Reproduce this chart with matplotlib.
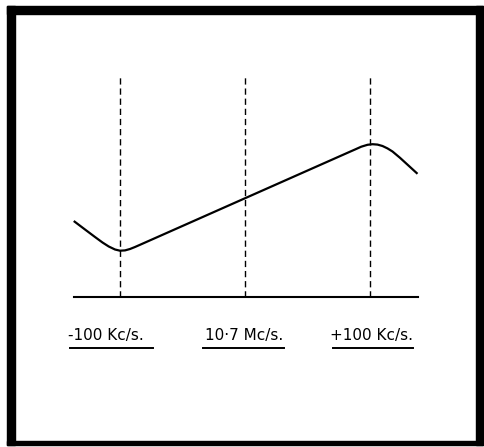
import matplotlib
matplotlib.use("Agg")
import matplotlib.pyplot as plt
from matplotlib.patches import Rectangle

# frequency offset from 10.7 Mc/s (kc/s) and response (arbitrary units above baseline)
freq = [-137, -128, -120, -114, -109, -104, -100, -96, -92, -88, -84,
        84, 88, 93, 98, 102, 106, 110, 114, 118, 124, 131, 138]
response = [76, 67.5, 60, 54.5, 50.5, 47.5, 46.3, 46.6, 48, 50, 52.2,
            145.3, 147.5, 150.3, 152.2, 152.8, 152.4, 151, 148.6, 145.5, 139.2, 131.2, 123.2]

markers = [-100, 0, 100]
marker_top = 220
labels = ["-100 Kc/s.", "10\u00b77 Mc/s.", "+100 Kc/s."]
label_x = [-111, -1, 101]
underline_x = [(-140, -74), (-34, 31), (70, 134)]

fig = plt.figure(figsize=(4.84, 4.47), dpi=100)
ax = fig.add_axes([0, 0, 1, 1])
ax.set_xlim(-196, 191.2)
ax.set_ylim(-150, 297)
ax.axis("off")

# response curve
ax.plot(freq, response, color="black", lw=1.6, solid_capstyle="butt", solid_joinstyle="round")

# dashed marker lines
for m in markers:
    ax.plot([m, m], [0, marker_top], color="black", lw=1.0, dashes=(4.5, 2.8))

# baseline
ax.plot([freq[0], freq[-1]], [0, 0], color="black", lw=1.5)

# labels with underlines
for lab, lx, (u0, u1) in zip(labels, label_x, underline_x):
    ax.text(lx, -43, lab, ha="center", va="baseline", fontsize=11, color="black")
    ax.plot([u0, u1], [-51, -51], color="black", lw=1.4)

# thick black frame
W, H = 484.0, 447.0
frame = [(7, 6, 8, 439), (7, 6, 476, 8), (476, 6, 7, 439), (7, 441, 476, 4)]
for x0, y0, w, h in frame:
    fig.patches.append(Rectangle((x0 / W, 1 - (y0 + h) / H), w / W, h / H,
                                 transform=fig.transFigure, color="black", zorder=10))

fig.savefig("out.png", dpi=100, facecolor="white")
